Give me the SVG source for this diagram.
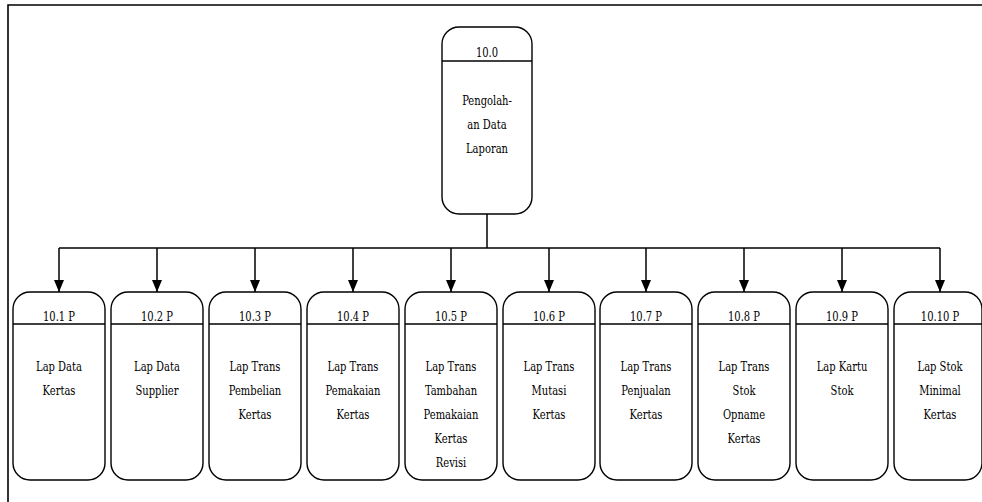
<svg xmlns="http://www.w3.org/2000/svg" width="982" height="502" viewBox="0 0 982 502">
  <style>
    .box { fill: #ffffff; stroke: #000000; stroke-width: 1.4; }
    .sep { stroke: #000000; stroke-width: 1.4; }
    .wire { fill: none; stroke: #000000; stroke-width: 1.5; }
    text { font-family: 'DejaVu Serif Condensed', 'DejaVu Serif', 'Liberation Serif', serif; font-size: 13.5px; fill: #000000; text-anchor: middle; }
  </style>
  <defs>
    <marker id="arrow" viewBox="0 0 12 10" refX="12" refY="5" markerWidth="12" markerHeight="10" markerUnits="userSpaceOnUse" orient="auto">
      <path d="M0,0 L12,5 L0,10 Z" fill="#000000"/>
    </marker>
  </defs>

  <!-- page frame -->
  <path d="M8,502 L8,5 L982,5" fill="none" stroke="#000000" stroke-width="1.6"/>

  <!-- connectors -->
  <g id="connectors">
    <path class="wire" d="M487,214 L487,248"/>
    <path class="wire" d="M59,248 L940,248"/>
    <path class="wire" d="M59,248 L59,292" marker-end="url(#arrow)"/>
    <path class="wire" d="M157,248 L157,292" marker-end="url(#arrow)"/>
    <path class="wire" d="M255,248 L255,292" marker-end="url(#arrow)"/>
    <path class="wire" d="M353,248 L353,292" marker-end="url(#arrow)"/>
    <path class="wire" d="M451,248 L451,292" marker-end="url(#arrow)"/>
    <path class="wire" d="M549,248 L549,292" marker-end="url(#arrow)"/>
    <path class="wire" d="M646,248 L646,292" marker-end="url(#arrow)"/>
    <path class="wire" d="M744,248 L744,292" marker-end="url(#arrow)"/>
    <path class="wire" d="M842,248 L842,292" marker-end="url(#arrow)"/>
    <path class="wire" d="M940,248 L940,292" marker-end="url(#arrow)"/>
  </g>

  <!-- root process -->
  <g id="p10-0">
    <rect class="box" x="442" y="27" width="90" height="187" rx="17" ry="17"/>
    <line class="sep" x1="442" y1="61" x2="532" y2="61"/>
    <g transform="translate(487,0) scale(0.82,1)">
      <text x="0" y="57">10.0</text>
      <text x="0" y="105">Pengolah-</text>
      <text x="0" y="129">an Data</text>
      <text x="0" y="153">Laporan</text>
    </g>
  </g>

  <g id="p10-1">
    <rect class="box" x="13" y="292" width="92" height="188" rx="17" ry="17"/>
    <line class="sep" x1="13" y1="324" x2="105" y2="324"/>
    <g transform="translate(59,0) scale(0.82,1)">
      <text x="0" y="321">10.1 P</text>
      <text x="0" y="371">Lap Data</text>
      <text x="0" y="395">Kertas</text>
    </g>
  </g>

  <g id="p10-2">
    <rect class="box" x="111" y="292" width="92" height="188" rx="17" ry="17"/>
    <line class="sep" x1="111" y1="324" x2="203" y2="324"/>
    <g transform="translate(157,0) scale(0.82,1)">
      <text x="0" y="321">10.2 P</text>
      <text x="0" y="371">Lap Data</text>
      <text x="0" y="395">Supplier</text>
    </g>
  </g>

  <g id="p10-3">
    <rect class="box" x="209" y="292" width="92" height="188" rx="17" ry="17"/>
    <line class="sep" x1="209" y1="324" x2="301" y2="324"/>
    <g transform="translate(255,0) scale(0.82,1)">
      <text x="0" y="321">10.3 P</text>
      <text x="0" y="371">Lap Trans</text>
      <text x="0" y="395">Pembelian</text>
      <text x="0" y="419">Kertas</text>
    </g>
  </g>

  <g id="p10-4">
    <rect class="box" x="307" y="292" width="92" height="188" rx="17" ry="17"/>
    <line class="sep" x1="307" y1="324" x2="399" y2="324"/>
    <g transform="translate(353,0) scale(0.82,1)">
      <text x="0" y="321">10.4 P</text>
      <text x="0" y="371">Lap Trans</text>
      <text x="0" y="395">Pemakaian</text>
      <text x="0" y="419">Kertas</text>
    </g>
  </g>

  <g id="p10-5">
    <rect class="box" x="405" y="292" width="92" height="188" rx="17" ry="17"/>
    <line class="sep" x1="405" y1="324" x2="497" y2="324"/>
    <g transform="translate(451,0) scale(0.82,1)">
      <text x="0" y="321">10.5 P</text>
      <text x="0" y="371">Lap Trans</text>
      <text x="0" y="395">Tambahan</text>
      <text x="0" y="419">Pemakaian</text>
      <text x="0" y="443">Kertas</text>
      <text x="0" y="467">Revisi</text>
    </g>
  </g>

  <g id="p10-6">
    <rect class="box" x="503" y="292" width="92" height="188" rx="17" ry="17"/>
    <line class="sep" x1="503" y1="324" x2="595" y2="324"/>
    <g transform="translate(549,0) scale(0.82,1)">
      <text x="0" y="321">10.6 P</text>
      <text x="0" y="371">Lap Trans</text>
      <text x="0" y="395">Mutasi</text>
      <text x="0" y="419">Kertas</text>
    </g>
  </g>

  <g id="p10-7">
    <rect class="box" x="600" y="292" width="92" height="188" rx="17" ry="17"/>
    <line class="sep" x1="600" y1="324" x2="692" y2="324"/>
    <g transform="translate(646,0) scale(0.82,1)">
      <text x="0" y="321">10.7 P</text>
      <text x="0" y="371">Lap Trans</text>
      <text x="0" y="395">Penjualan</text>
      <text x="0" y="419">Kertas</text>
    </g>
  </g>

  <g id="p10-8">
    <rect class="box" x="698" y="292" width="92" height="188" rx="17" ry="17"/>
    <line class="sep" x1="698" y1="324" x2="790" y2="324"/>
    <g transform="translate(744,0) scale(0.82,1)">
      <text x="0" y="321">10.8 P</text>
      <text x="0" y="371">Lap Trans</text>
      <text x="0" y="395">Stok</text>
      <text x="0" y="419">Opname</text>
      <text x="0" y="443">Kertas</text>
    </g>
  </g>

  <g id="p10-9">
    <rect class="box" x="796" y="292" width="92" height="188" rx="17" ry="17"/>
    <line class="sep" x1="796" y1="324" x2="888" y2="324"/>
    <g transform="translate(842,0) scale(0.82,1)">
      <text x="0" y="321">10.9 P</text>
      <text x="0" y="371">Lap Kartu</text>
      <text x="0" y="395">Stok</text>
    </g>
  </g>

  <g id="p10-10">
    <rect class="box" x="894" y="292" width="88" height="188" rx="17" ry="17"/>
    <line class="sep" x1="894" y1="324" x2="982" y2="324"/>
    <g transform="translate(940,0) scale(0.82,1)">
      <text x="0" y="321">10.10 P</text>
      <text x="0" y="371">Lap Stok</text>
      <text x="0" y="395">Minimal</text>
      <text x="0" y="419">Kertas</text>
    </g>
  </g>
</svg>
